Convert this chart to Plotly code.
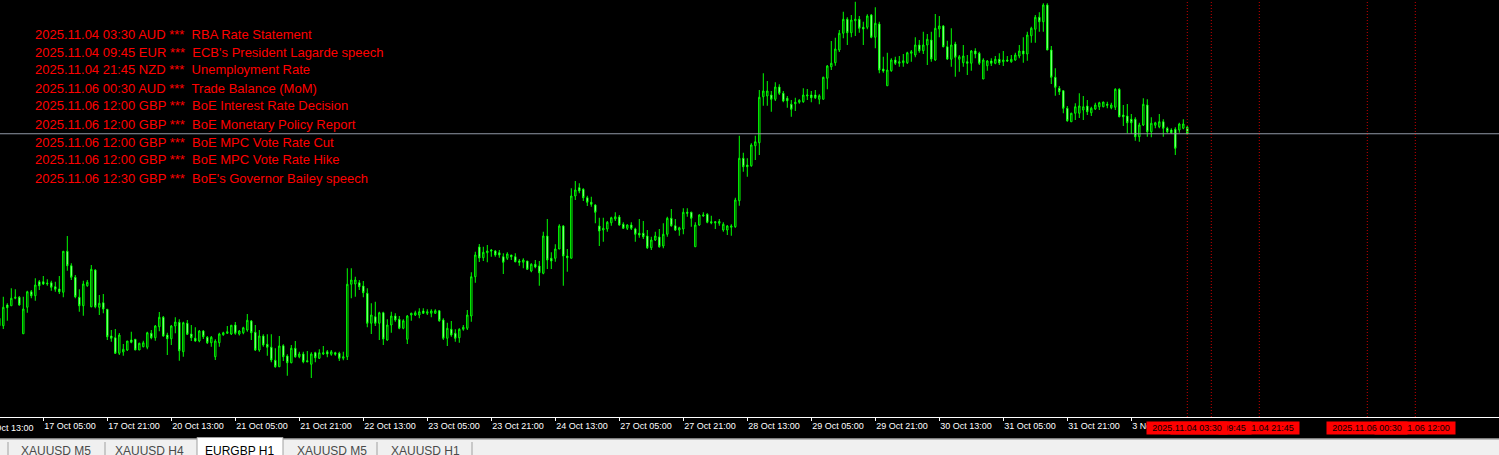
import pandas as pd
import plotly.graph_objects as go

# ---------------- data (prices in points, 1 point = 0.00001) ----------------
open_pts = [
    86897, 86897, 86980, 86977, 87007, 87011, 86865, 86971, 87033, 87017,
    87073, 87073, 87068, 87069, 87053, 87044, 87031, 87195, 87137, 87091,
    87011, 86977, 87057, 86973, 87120, 86971, 86989, 86963, 86856, 86849,
    86787, 86792, 86800, 86840, 86843, 86800, 86813, 86811, 86867, 86849,
    86893, 86931, 86860, 86845, 86896, 86911, 86793, 86907, 86864, 86847,
    86836, 86876, 86851, 86829, 86773, 86829, 86861, 86867, 86864, 86900,
    86864, 86869, 86880, 86916, 86871, 86800, 86856, 86823, 86811, 86759,
    86733, 86817, 86776, 86749, 86807, 86773, 86784, 86757, 86743, 86789,
    86767, 86784, 86793, 86783, 86789, 86787, 86767, 86773, 87063, 87064,
    87069, 87056, 87027, 86907, 86933, 86907, 86949, 86840, 86900, 86936,
    86923, 86887, 86843, 86940, 86940, 86940, 86956, 86947, 86947, 86947,
    86957, 86920, 86847, 86883, 86867, 86849, 86883, 86887, 86936, 87093,
    87212, 87169, 87189, 87200, 87196, 87189, 87173, 87167, 87180, 87173,
    87156, 87151, 87156, 87116, 87143, 87136, 87107, 87256, 87167, 87167,
    87204, 87296, 87176, 87167, 87416, 87449, 87443, 87409, 87391, 87380,
    87296, 87280, 87284, 87309, 87324, 87332, 87303, 87287, 87300, 87284,
    87267, 87267, 87256, 87209, 87240, 87252, 87216, 87263, 87327, 87297,
    87280, 87284, 87351, 87351, 87213, 87300, 87336, 87343, 87313, 87313,
    87307, 87280, 87280, 87291, 87293, 87397, 87567, 87540, 87537, 87617,
    87629, 87813, 87816, 87820, 87803, 87852, 87827, 87807, 87783, 87785,
    87791, 87793, 87816, 87820, 87820, 87803, 87803, 87887, 87933, 87949,
    88000, 88067, 88123, 88069, 88117, 88123, 88091, 88091, 88140, 88051,
    88104, 87924, 87857, 87917, 87960, 87947, 87949, 87949, 87987, 87980,
    88020, 87997, 88020, 88040, 87960, 88084, 88096, 88013, 87963, 88024,
    87963, 87949, 87953, 87947, 87996, 87987, 87884, 87937, 87956, 87947,
    87963, 87953, 87960, 87953, 87960, 87976, 87996, 87984, 88057, 88083,
    88131, 88113, 88180, 88000, 87891, 87847, 87837, 87767, 87713, 87747,
    87747, 87760, 87776, 87749, 87764, 87773, 87773, 87783, 87769, 87771,
    87843, 87740, 87736, 87723, 87723, 87653, 87700, 87780, 87673, 87699,
    87693, 87713, 87687, 87680, 87683, 87680, 87687, 87691,
]
high_pts = [
    86933, 87013, 86987, 87047, 87043, 87016, 87013, 87037, 87040, 87087,
    87080, 87096, 87083, 87077, 87073, 87096, 87195, 87256, 87147, 87100,
    87043, 87077, 87080, 87140, 87123, 87020, 87024, 86963, 86880, 86884,
    86868, 86824, 86836, 86873, 86843, 86829, 86837, 86873, 86880, 86900,
    86952, 86936, 86869, 86900, 86931, 86923, 86913, 86920, 86900, 86891,
    86880, 86880, 86856, 86856, 86843, 86869, 86873, 86896, 86899, 86912,
    86880, 86893, 86944, 86920, 86900, 86880, 86863, 86863, 86863, 86807,
    86856, 86823, 86783, 86820, 86836, 86793, 86793, 86796, 86791, 86793,
    86803, 86816, 86800, 86800, 86793, 86793, 86793, 87127, 87127, 87093,
    87080, 87076, 87047, 86987, 86993, 86953, 86953, 86923, 86953, 86947,
    86936, 86923, 86940, 86949, 86957, 86967, 86967, 86963, 86963, 86963,
    86960, 86927, 86909, 86916, 86883, 86887, 86900, 86960, 87111, 87193,
    87224, 87213, 87220, 87204, 87200, 87200, 87187, 87191, 87180, 87187,
    87164, 87167, 87156, 87147, 87160, 87156, 87273, 87324, 87191, 87223,
    87303, 87300, 87204, 87447, 87476, 87467, 87447, 87417, 87413, 87383,
    87329, 87329, 87316, 87333, 87351, 87340, 87311, 87303, 87311, 87289,
    87324, 87316, 87280, 87253, 87273, 87284, 87307, 87333, 87364, 87324,
    87293, 87367, 87367, 87353, 87311, 87343, 87351, 87347, 87337, 87316,
    87324, 87311, 87300, 87303, 87409, 87657, 87589, 87567, 87627, 87657,
    87840, 87907, 87876, 87836, 87871, 87863, 87836, 87816, 87800, 87809,
    87803, 87847, 87844, 87836, 87840, 87823, 87893, 87940, 88036, 88049,
    88080, 88153, 88131, 88140, 88193, 88136, 88113, 88143, 88144, 88171,
    88113, 87973, 87989, 87967, 87973, 87976, 87984, 87993, 88000, 88051,
    88040, 88073, 88064, 88073, 88144, 88136, 88100, 88037, 88087, 88033,
    87980, 88020, 87980, 88000, 88007, 87993, 87967, 87960, 87967, 87976,
    87987, 87996, 87976, 87980, 87989, 88020, 88051, 88073, 88093, 88140,
    88151, 88187, 88187, 88016, 87927, 87856, 87840, 87776, 87749, 87787,
    87827, 87816, 87800, 87773, 87789, 87793, 87793, 87793, 87789, 87847,
    87847, 87780, 87784, 87744, 87731, 87709, 87807, 87803, 87731, 87713,
    87744, 87723, 87693, 87687, 87691, 87709, 87723, 87696,
]
low_pts = [
    86891, 86884, 86917, 86977, 87003, 86977, 86865, 86949, 87007, 86997,
    87040, 87060, 87057, 87037, 87033, 87024, 87011, 87117, 87080, 87007,
    86953, 86937, 87053, 86971, 86967, 86940, 86947, 86840, 86833, 86784,
    86780, 86777, 86796, 86827, 86800, 86800, 86811, 86803, 86843, 86837,
    86875, 86853, 86780, 86820, 86867, 86757, 86773, 86860, 86836, 86833,
    86831, 86844, 86824, 86813, 86760, 86813, 86857, 86864, 86860, 86861,
    86858, 86863, 86873, 86840, 86796, 86793, 86813, 86777, 86751, 86729,
    86733, 86756, 86697, 86747, 86769, 86767, 86747, 86753, 86688, 86751,
    86764, 86780, 86771, 86777, 86777, 86756, 86759, 86760, 87007, 87013,
    87040, 87011, 86891, 86864, 86896, 86840, 86820, 86837, 86869, 86913,
    86883, 86883, 86824, 86917, 86936, 86927, 86944, 86940, 86931, 86944,
    86913, 86840, 86816, 86853, 86833, 86829, 86877, 86880, 86913, 87069,
    87152, 87156, 87151, 87173, 87173, 87169, 87104, 87160, 87160, 87151,
    87137, 87127, 87120, 87111, 87127, 87057, 87103, 87124, 87124, 87153,
    87204, 87057, 87113, 87167, 87400, 87427, 87396, 87376, 87373, 87307,
    87216, 87233, 87273, 87297, 87316, 87297, 87284, 87280, 87280, 87233,
    87249, 87244, 87204, 87200, 87236, 87209, 87207, 87253, 87293, 87276,
    87257, 87263, 87333, 87293, 87213, 87297, 87333, 87307, 87303, 87284,
    87297, 87273, 87260, 87257, 87289, 87377, 87513, 87493, 87533, 87560,
    87580, 87777, 87777, 87753, 87796, 87820, 87791, 87769, 87733, 87756,
    87785, 87789, 87800, 87791, 87804, 87783, 87803, 87843, 87920, 87937,
    87992, 88047, 88020, 88051, 88056, 88069, 88020, 88083, 88047, 88007,
    87907, 87909, 87857, 87913, 87940, 87933, 87933, 87944, 87953, 87971,
    87989, 87984, 87940, 87953, 87957, 88051, 88011, 87960, 87933, 87893,
    87913, 87933, 87900, 87917, 87967, 87940, 87884, 87917, 87936, 87943,
    87940, 87936, 87953, 87949, 87957, 87967, 87949, 87957, 88029, 88029,
    88073, 88073, 88000, 87864, 87817, 87820, 87747, 87713, 87713, 87720,
    87728, 87720, 87740, 87736, 87760, 87760, 87771, 87767, 87763, 87760,
    87731, 87696, 87667, 87664, 87637, 87633, 87696, 87653, 87651, 87687,
    87687, 87653, 87667, 87664, 87580, 87669, 87683, 87660,
]
close_pts = [
    86927, 86971, 86969, 87007, 87011, 86980, 86964, 87033, 87017, 87060,
    87057, 87064, 87065, 87051, 87043, 87033, 87195, 87137, 87091, 87013,
    86977, 87064, 87071, 87123, 86973, 86987, 86964, 86853, 86847, 86787,
    86860, 86803, 86836, 86831, 86800, 86827, 86829, 86869, 86849, 86896,
    86931, 86856, 86845, 86896, 86912, 86797, 86909, 86863, 86849, 86836,
    86876, 86853, 86829, 86851, 86836, 86864, 86869, 86873, 86899, 86867,
    86876, 86889, 86919, 86869, 86800, 86856, 86820, 86811, 86760, 86733,
    86816, 86773, 86749, 86807, 86773, 86784, 86753, 86753, 86784, 86769,
    86789, 86789, 86784, 86793, 86783, 86767, 86773, 87063, 87080, 87080,
    87053, 87029, 86907, 86940, 86907, 86949, 86844, 86900, 86936, 86920,
    86887, 86917, 86936, 86947, 86949, 86953, 86947, 86953, 86956, 86957,
    86917, 86847, 86887, 86860, 86847, 86883, 86891, 86940, 87093, 87180,
    87168, 87191, 87196, 87196, 87180, 87180, 87151, 87184, 87173, 87153,
    87151, 87160, 87123, 87143, 87132, 87109, 87256, 87160, 87156, 87204,
    87296, 87176, 87169, 87416, 87440, 87436, 87409, 87391, 87383, 87351,
    87276, 87287, 87311, 87329, 87333, 87300, 87287, 87300, 87287, 87263,
    87260, 87253, 87209, 87240, 87256, 87213, 87263, 87327, 87297, 87280,
    87289, 87351, 87347, 87327, 87300, 87340, 87340, 87311, 87309, 87309,
    87314, 87303, 87296, 87296, 87400, 87567, 87533, 87533, 87620, 87633,
    87811, 87836, 87836, 87803, 87852, 87827, 87796, 87797, 87763, 87791,
    87799, 87820, 87820, 87809, 87809, 87817, 87891, 87936, 87947, 88004,
    88067, 88123, 88069, 88120, 88123, 88087, 88084, 88136, 88051, 88107,
    87920, 87916, 87920, 87960, 87947, 87953, 87957, 87989, 87993, 88020,
    87997, 88020, 88043, 87964, 88087, 88096, 88013, 87964, 88020, 87971,
    87973, 87976, 87947, 87996, 87984, 87947, 87960, 87956, 87947, 87963,
    87949, 87960, 87956, 87963, 87980, 87996, 87984, 88060, 88087, 88131,
    88113, 88180, 88000, 87891, 87851, 87833, 87767, 87717, 87747, 87773,
    87776, 87773, 87753, 87767, 87780, 87789, 87792, 87779, 87780, 87843,
    87733, 87733, 87709, 87709, 87653, 87700, 87783, 87673, 87707, 87709,
    87713, 87687, 87673, 87669, 87607, 87704, 87704, 87665,
]
POINT = 0.00001
first_bar_time = "2025-10-16 18:00"

tick_labels = ["17 Oct 05:00", "17 Oct 21:00", "20 Oct 13:00", "21 Oct 05:00",
               "21 Oct 21:00", "22 Oct 13:00", "23 Oct 05:00", "23 Oct 21:00",
               "24 Oct 13:00", "27 Oct 05:00", "27 Oct 21:00", "28 Oct 13:00",
               "29 Oct 05:00", "29 Oct 21:00", "30 Oct 13:00", "31 Oct 05:00",
               "31 Oct 21:00", "3 Nov 13:00"]
partial_label = "16 Oct 13:00"

event_times = ["2025.11.04 03:30", "2025.11.04 09:45", "2025.11.04 21:45",
               "2025.11.06 00:30", "2025.11.06 12:00", "2025.11.06 12:00",
               "2025.11.06 12:00", "2025.11.06 12:00", "2025.11.06 12:30"]
event_currencies = ["AUD", "EUR", "NZD", "AUD", "GBP", "GBP", "GBP", "GBP", "GBP"]
event_titles = ["RBA Rate Statement", "ECB's President Lagarde speech",
                "Unemployment Rate", "Trade Balance (MoM)",
                "BoE Interest Rate Decision", "BoE Monetary Policy Report",
                "BoE MPC Vote Rate Cut", "BoE MPC Vote Rate Hike",
                "BoE's Governor Bailey speech"]

tabs = ["XAUUSD M5", "XAUUSD H4", "EURGBP H1", "XAUUSD M5", "XAUUSD H1"]
active_tab = "EURGBP H1"

# ---------------- derived ----------------
opens = [v * POINT for v in open_pts]
highs = [v * POINT for v in high_pts]
lows = [v * POINT for v in low_pts]
closes = [v * POINT for v in close_pts]
n = len(opens)
xs = list(range(n))

hours = pd.date_range(first_bar_time, "2025-11-07 23:00", freq="h")
bar_times = hours[hours.dayofweek < 5]
label_index = {f"{t.day} {t:%b %H:%M}": i for i, t in enumerate(bar_times)}
time_index = {t: i for i, t in enumerate(bar_times)}
tickvals = [label_index[s] for s in tick_labels]

def event_bar(s):
    t = pd.Timestamp(s.replace(".", "-")).floor("h")
    return time_index[t]

W, H = 1499, 455
PLOT_H = 417
BAR_PX = 4.0
X0 = 0.175
xr = [X0, X0 + W / BAR_PX]
yr = [0.86532, 0.88200]

def px(x):
    return x / W

def py(y):
    return (PLOT_H - y) / PLOT_H

fig = go.Figure()
fig.add_trace(go.Candlestick(
    x=xs, open=opens, high=highs, low=lows, close=closes,
    increasing=dict(line=dict(color="#00ff00", width=1), fillcolor="#000000"),
    decreasing=dict(line=dict(color="#00ff00", width=1), fillcolor="#ffffff"),
    whiskerwidth=0, hoverinfo="skip", showlegend=False,
))

shapes = []
# bid line at last close
shapes.append(dict(type="line", xref="paper", x0=0, x1=1, yref="y",
                   y0=closes[-1], y1=closes[-1],
                   line=dict(color="#9098a6", width=1)))
# event lines
event_bars = []
for s in event_times:
    b = event_bar(s)
    if b not in event_bars:
        event_bars.append(b)
for b in event_bars:
    shapes.append(dict(type="line", xref="x", x0=b, x1=b, yref="paper", y0=0, y1=1,
                       line=dict(color="#c80000", width=1, dash="1px,2px")))

# bottom tab strip
shapes.append(dict(type="rect", xref="paper", yref="paper", x0=0, x1=1,
                   y0=py(456), y1=py(439.5), fillcolor="#f0f0f0", line=dict(width=0), layer="above"))
shapes.append(dict(type="line", xref="paper", yref="paper", x0=0, x1=1,
                   y0=py(439), y1=py(439), line=dict(color="#ffffff", width=1), layer="above"))
tab_centers = [55.5, 149, 239, 331.5, 425]
shapes.append(dict(type="rect", xref="paper", yref="paper", x0=px(197), x1=px(283),
                   y0=py(457), y1=py(437.5), fillcolor="#ffffff",
                   line=dict(color="#a0a0a0", width=1), layer="above"))
for e in [8, 105, 377, 472]:
    shapes.append(dict(type="line", xref="paper", yref="paper", x0=px(e), x1=px(e),
                       y0=py(442), y1=py(456), line=dict(color="#a0a0a0", width=1), layer="above"))

annotations = []
FONT = "Liberation Sans, Arial, sans-serif"
# event list text
for j, (t, c, title) in enumerate(zip(event_times, event_currencies, event_titles)):
    annotations.append(dict(
        text=f"{t} {c} ***\u00a0\u00a0{title}", xref="paper", yref="paper",
        x=px(33), y=py(34 + 18 * j), xanchor="left", yanchor="middle",
        showarrow=False, font=dict(family=FONT, size=13, color="#ff0000")))

# partial first time label
annotations.append(dict(text=partial_label, xref="x", yref="paper", x=tickvals[0],
                        xshift=-16 * BAR_PX + 1, y=py(427.5), xanchor="left", yanchor="middle",
                        showarrow=False, font=dict(family=FONT, size=9, color="#ffffff")))

# event time labels on the axis (earlier ones on top)
labels = []
for s in event_times:
    b = event_bar(s)
    if b not in [l[0] for l in labels]:
        labels.append((b, s))
for b, s in reversed(labels):
    annotations.append(dict(text=s, xref="x", yref="paper", x=b, y=py(427.5),
                            xanchor="center", yanchor="middle", showarrow=False,
                            bgcolor="#ff0000", borderpad=1, width=78, height=10,
                            font=dict(family=FONT, size=9, color="#000000")))

# tab labels
for name, cx in zip(tabs, tab_centers):
    annotations.append(dict(text=name, xref="paper", yref="paper", x=px(cx), y=py(450.5),
                            xanchor="center", yanchor="middle", showarrow=False,
                            font=dict(family=FONT, size=12,
                                      color="#000000" if name == active_tab else "#4a4a4a")))

fig.update_layout(
    width=W, height=H, autosize=False,
    margin=dict(l=0, r=0, t=0, b=H - PLOT_H, pad=0),
    paper_bgcolor="#000000", plot_bgcolor="#000000",
    boxgap=0.5,
    showlegend=False,
    xaxis=dict(range=xr, rangeslider=dict(visible=False), showgrid=False, zeroline=False,
               showline=True, linecolor="#ffffff", linewidth=1,
               ticks="outside", ticklen=3, tickcolor="#ffffff", tickwidth=1,
               tickmode="array", tickvals=tickvals, ticktext=tick_labels,
               ticklabelposition="outside right",
               tickfont=dict(family=FONT, size=9, color="#ffffff"),
               fixedrange=True),
    yaxis=dict(range=yr, visible=False, fixedrange=True, showgrid=False, zeroline=False),
    shapes=shapes,
    annotations=annotations,
)

fig.write_html("out.html", config={"displayModeBar": False},
               post_script="document.body.style.margin='0';document.body.style.overflow='hidden';")
